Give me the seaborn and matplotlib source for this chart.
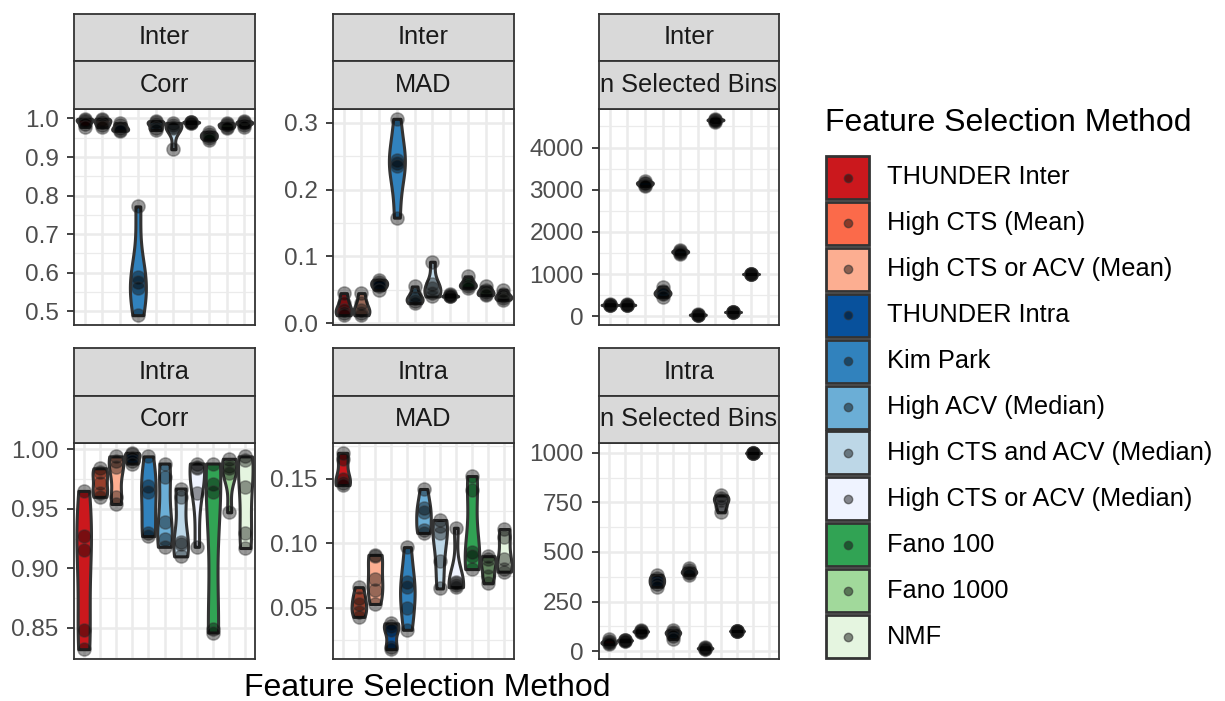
import numpy as np
import pandas as pd
import matplotlib
matplotlib.use("Agg")
import matplotlib.pyplot as plt
import seaborn as sns
from matplotlib.patches import Rectangle
from matplotlib.lines import Line2D

# ---------------- data ----------------
methods = ["THUNDER Inter", "High CTS (Mean)", "High CTS or ACV (Mean)", "THUNDER Intra",
           "Kim Park", "High ACV (Median)", "High CTS and ACV (Median)",
           "High CTS or ACV (Median)", "Fano 100", "Fano 1000", "NMF"]
colors = ["#CB181D", "#FB6A4A", "#FCAE91", "#08519C", "#3182BD", "#6BAED6",
          "#BDD7E7", "#EFF3FF", "#31A354", "#A1D99B", "#E5F5E0"]
# the Inter facets have no "High CTS (Mean)" results
inter_methods = [m for m in methods if m != "High CTS (Mean)"]

settings = ["Inter", "Intra"]
metrics = ["Corr", "MAD", "n Selected Bins"]

# Inter (10 methods)
inter_corr = [[0.999, 0.997, 0.993, 0.985, 0.978], [0.999, 0.996, 0.990, 0.984, 0.977],
              [0.988, 0.982, 0.975, 0.970, 0.968], [0.772, 0.590, 0.575, 0.560, 0.490],
              [0.993, 0.990, 0.985, 0.975, 0.970], [0.988, 0.982, 0.978, 0.975, 0.920],
              [0.992, 0.991, 0.990, 0.989, 0.988], [0.965, 0.960, 0.955, 0.950, 0.945],
              [0.988, 0.985, 0.982, 0.978, 0.975], [0.993, 0.990, 0.988, 0.984, 0.978]]
inter_mad = [[0.045, 0.030, 0.020, 0.015, 0.012], [0.045, 0.030, 0.020, 0.015, 0.012],
             [0.065, 0.062, 0.058, 0.055, 0.050], [0.306, 0.245, 0.240, 0.235, 0.158],
             [0.055, 0.042, 0.037, 0.033, 0.030], [0.092, 0.058, 0.052, 0.045, 0.040],
             [0.043, 0.042, 0.041, 0.040, 0.040], [0.070, 0.062, 0.058, 0.055, 0.053],
             [0.055, 0.050, 0.047, 0.043, 0.042], [0.050, 0.043, 0.040, 0.037, 0.035]]
inter_bins = [[285, 275, 270, 265, 260], [285, 275, 270, 265, 260],
              [3200, 3170, 3150, 3120, 3090], [700, 600, 560, 520, 460],
              [1580, 1550, 1530, 1510, 1480], [45, 40, 35, 30, 25],
              [4680, 4660, 4650, 4640, 4600], [100, 100, 100, 100, 100],
              [1000, 1000, 1000, 1000, 1000], []]

# Intra (11 methods)
intra_corr = [[0.965, 0.927, 0.915, 0.848, 0.832], [0.984, 0.981, 0.972, 0.963, 0.960],
              [0.994, 0.990, 0.985, 0.960, 0.954], [0.997, 0.996, 0.993, 0.990, 0.988],
              [0.994, 0.969, 0.964, 0.930, 0.927], [0.988, 0.977, 0.939, 0.925, 0.918],
              [0.967, 0.960, 0.922, 0.920, 0.910], [0.988, 0.985, 0.984, 0.963, 0.918],
              [0.988, 0.971, 0.964, 0.849, 0.846], [0.992, 0.986, 0.984, 0.980, 0.947],
              [0.994, 0.991, 0.968, 0.930, 0.917]]
intra_mad = [[0.170, 0.165, 0.150, 0.147, 0.145], [0.066, 0.058, 0.053, 0.047, 0.043],
             [0.091, 0.090, 0.072, 0.064, 0.053], [0.038, 0.036, 0.033, 0.020, 0.018],
             [0.097, 0.070, 0.066, 0.050, 0.033], [0.142, 0.127, 0.124, 0.110, 0.108],
             [0.118, 0.113, 0.108, 0.086, 0.065], [0.112, 0.070, 0.069, 0.068, 0.066],
             [0.152, 0.141, 0.093, 0.090, 0.080], [0.090, 0.088, 0.082, 0.075, 0.069],
             [0.111, 0.105, 0.088, 0.080, 0.078]]
intra_bins = [[60, 50, 45, 40, 35], [58, 55, 55, 52, 50], [105, 102, 100, 98, 95],
              [385, 370, 355, 340, 325], [105, 95, 90, 75, 60], [420, 410, 400, 395, 385],
              [20, 17, 15, 13, 10], [785, 770, 760, 730, 700], [100, 100, 100, 100, 100],
              [1000, 1000, 1000, 1000, 1000], []]

yticks_inter = [[0.5, 0.6, 0.7, 0.8, 0.9, 1.0], [0.0, 0.1, 0.2, 0.3], [0, 1000, 2000, 3000, 4000]]
ylabels_inter = [["0.5", "0.6", "0.7", "0.8", "0.9", "1.0"], ["0.0", "0.1", "0.2", "0.3"],
                 ["0", "1000", "2000", "3000", "4000"]]
yticks_intra = [[0.85, 0.90, 0.95, 1.00], [0.05, 0.10, 0.15], [0, 250, 500, 750, 1000]]
ylabels_intra = [["0.85", "0.90", "0.95", "1.00"], ["0.05", "0.10", "0.15"],
                 ["0", "250", "500", "750", "1000"]]

# ---------------- style ----------------
sns.set_theme(style="white")
plt.rcParams["font.family"] = ["Liberation Sans", "DejaVu Sans"]
palette = dict(zip(methods, colors))

W, H = 1225, 701
fig = plt.figure(figsize=(W / 100, H / 100), dpi=100)


def frac(x0, y0, x1, y1):
    return [x0 / W, 1 - y1 / H, (x1 - x0) / W, (y1 - y0) / H]


cols = [(74, 255), (333, 514), (599, 779)]
rows = [(109, 325), (443, 659)]
strips = [((14, 61), (61, 109)), ((348, 396), (396, 443))]
GRID = "#EBEBEB"
DARK = "#333333"


def draw_panel(ax, order, values, ticks, labels):
    recs = [(m, v) for m, vals in zip(order, values) for v in vals]
    df = pd.DataFrame(recs, columns=["method", "value"])
    sns.violinplot(data=df, x="method", y="value", hue="method", order=order,
                   hue_order=order, palette=palette, cut=0, density_norm="width",
                   width=0.9, inner=None, linewidth=2.2, linecolor=DARK,
                   saturation=1, legend=False, ax=ax, bw_adjust=0.9)
    sns.stripplot(data=df, x="method", y="value", order=order, color="black",
                  alpha=0.4, size=9.5, jitter=False, linewidth=1.1,
                  edgecolor=DARK, ax=ax)
    ax.set_xlim(-0.6, len(order) - 0.4)
    vmin, vmax = df["value"].min(), df["value"].max()
    pad = (vmax - vmin) * 0.05
    ax.set_ylim(vmin - pad, vmax + pad)
    ax.set_yticks(ticks, labels)
    step = ticks[1] - ticks[0]
    minors = [t + step / 2 for t in [ticks[0] - step] + ticks]
    lo, hi = ax.get_ylim()
    ax.set_yticks([m for m in minors if lo <= m <= hi], minor=True)
    ax.set_axisbelow(True)
    ax.grid(which="major", color=GRID, lw=1.8)
    ax.grid(which="minor", axis="y", color=GRID, lw=0.9)
    ax.tick_params(axis="x", length=0, labelbottom=False)
    ax.tick_params(axis="y", which="major", length=5, width=1.3, color=DARK,
                   labelsize=17.5, labelcolor="#4D4D4D", pad=6, left=True)
    ax.tick_params(axis="y", which="minor", length=0)
    ax.set_xlabel("")
    ax.set_ylabel("")
    for s in ax.spines.values():
        s.set_color(DARK)
        s.set_linewidth(1.3)


def draw_strip(x0, x1, y0, y1, text):
    sax = fig.add_axes(frac(x0, y0, x1, y1))
    sax.set_facecolor("#D9D9D9")
    sax.set_xticks([])
    sax.set_yticks([])
    for s in sax.spines.values():
        s.set_color(DARK)
        s.set_linewidth(1.3)
    t = sax.text(0.5, 0.5, text, ha="center", va="center", fontsize=18.3,
                 color="#1A1A1A", transform=sax.transAxes)
    t.set_clip_on(True)


panel_values = [[inter_corr, inter_mad, inter_bins], [intra_corr, intra_mad, intra_bins]]
panel_ticks = [yticks_inter, yticks_intra]
panel_labels = [ylabels_inter, ylabels_intra]
orders = [inter_methods, methods]

for r in range(2):
    for c in range(3):
        ax = fig.add_axes(frac(cols[c][0], rows[r][0], cols[c][1], rows[r][1]))
        draw_panel(ax, orders[r], panel_values[r][c], panel_ticks[r][c], panel_labels[r][c])
        (a0, a1), (b0, b1) = strips[r]
        draw_strip(cols[c][0], cols[c][1], a0, a1, settings[r])
        draw_strip(cols[c][0], cols[c][1], b0, b1, metrics[c])

# x axis title
fig.text(427 / W, 1 - 688 / H, "Feature Selection Method", ha="center", va="center",
         fontsize=23, color="black")

# ---------------- legend ----------------
fig.text(825 / W, 1 - 123 / H, "Feature Selection Method", ha="left", va="center",
         fontsize=23, color="black")
key_top, pitch, ksize = 156, 45.9, 43
for i, (m, col) in enumerate(zip(methods, colors)):
    y0 = key_top + i * pitch
    fig.add_artist(Rectangle((826 / W, 1 - (y0 + ksize) / H), ksize / W, ksize / H,
                             transform=fig.transFigure, facecolor=col,
                             edgecolor=DARK, linewidth=2.0))
    cy = 1 - (y0 + ksize / 2) / H
    fig.add_artist(Line2D([(826 + ksize / 2) / W], [cy], transform=fig.transFigure,
                          marker="o", markersize=6, markerfacecolor=(0, 0, 0, 0.45),
                          markeredgecolor=(0.2, 0.2, 0.2, 0.6), linestyle="none"))
    fig.text(887 / W, cy, m, ha="left", va="center", fontsize=18.3, color="black")

fig.savefig("out.png", dpi=100)
